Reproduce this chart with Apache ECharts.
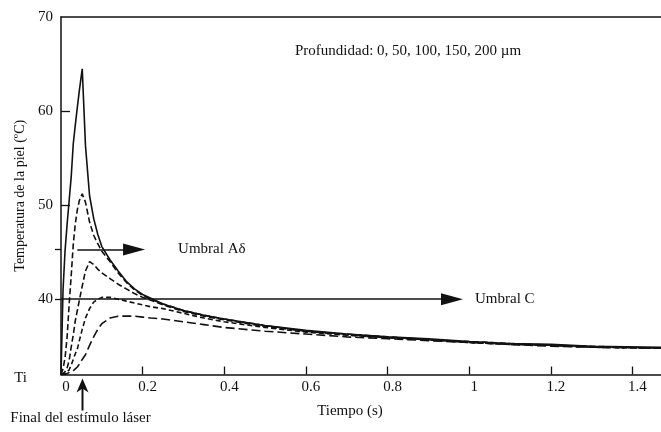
<!DOCTYPE html>
<html><head><meta charset="utf-8">
<script src="https://cdn.jsdelivr.net/npm/echarts@6/dist/echarts.min.js"></script>
<style>html,body{margin:0;padding:0;background:#fff}#c{width:661px;height:432px}</style>
</head><body><div id="c"></div>
<script>
// ---- data ----
const timeS    = [0, 0.005, 0.01, 0.015, 0.02, 0.025, 0.03, 0.035, 0.04, 0.045, 0.052, 0.06, 0.07, 0.08, 0.09, 0.1, 0.12, 0.14, 0.16, 0.18, 0.2, 0.22, 0.25, 0.3, 0.35, 0.4, 0.5, 0.6, 0.7, 0.8, 0.9, 1.0, 1.1, 1.2, 1.3, 1.47];
const depth0   = [32, 41, 45.2, 48, 50.5, 53, 56.5, 58.5, 60.4, 62.2, 64.5, 56.3, 51.0, 48.6, 46.9, 45.6, 44.2, 43.0, 41.9, 41.1, 40.5, 40.1, 39.5, 38.8, 38.3, 37.9, 37.2, 36.7, 36.3, 36.0, 35.8, 35.5, 35.3, 35.2, 35.0, 34.9];
const depth50  = [32, 32.6, 33.8, 36, 39.5, 42.5, 45.8, 48, 49.5, 50.5, 51.2, 50.3, 48.2, 46.8, 45.9, 45.1, 44.0, 42.8, 41.8, 41.0, 40.4, 40.0, 39.5, 38.8, 38.3, 37.9, 37.2, 36.6, 36.3, 36.0, 35.7, 35.5, 35.3, 35.1, 35.0, 34.8];
const depth100 = [32, 32.1, 32.3, 32.7, 33.5, 34.9, 36.2, 37.7, 38.8, 39.9, 41.4, 43.0, 44.0, 43.7, 43.2, 42.8, 42.2, 41.6, 41.1, 40.6, 40.2, 39.9, 39.4, 38.7, 38.2, 37.8, 37.1, 36.6, 36.2, 35.9, 35.7, 35.4, 35.2, 35.1, 34.9, 34.8];
const depth150 = [32, 32, 32.1, 32.3, 32.5, 33.0, 33.6, 34.2, 34.7, 35.6, 36.8, 38.0, 39.0, 39.7, 40.0, 40.2, 40.2, 40.0, 39.8, 39.6, 39.4, 39.2, 39.0, 38.5, 38.0, 37.6, 37.0, 36.5, 36.2, 35.9, 35.7, 35.4, 35.2, 35.1, 34.9, 34.8];
const depth200 = [32, 32, 32, 32.1, 32.2, 32.3, 32.4, 32.6, 32.8, 33.1, 33.6, 34.1, 35.1, 36.0, 36.8, 37.4, 38.0, 38.2, 38.2, 38.2, 38.1, 38.0, 37.9, 37.6, 37.3, 37.0, 36.6, 36.3, 36.0, 35.8, 35.6, 35.4, 35.2, 35.0, 34.9, 34.8];
const depthNames = ['0 µm', '50 µm', '100 µm', '150 µm', '200 µm'];
const tempTi = 32;
const yTickLabels = [32, 40, 50, 60, 70];
const xTickLabels = [0, 0.2, 0.4, 0.6, 0.8, 1, 1.2, 1.4];
const thresholdAdelta = 45.3;
const thresholdC = 40;
const aDeltaSpan = [0.04, 0.179];
const cSpan = [0, 0.958];
const stimulusEnd = 0.052;

// ---- chart ----
const FONT = '"Liberation Serif", "DejaVu Serif", serif';
const INK = '#111';
const chart = echarts.init(document.getElementById('c'), null, {renderer: 'canvas'});
const allDepths = [depth0, depth50, depth100, depth150, depth200];
const dashes = ['solid', [6, 3], [6, 3], [5, 3], [9, 4]];
const arrowPath = 'path://M6,0L12,22L0,22Z';

const series = allDepths.map((arr, k) => ({
  name: depthNames[k],
  type: 'line',
  xAxisIndex: 0, yAxisIndex: 0,
  data: timeS.map((t, i) => [t, arr[i]]),
  showSymbol: false,
  symbol: 'none',
  z: 5 - k,
  lineStyle: {color: INK, width: 1.6, type: dashes[k]},
  silent: true
}));
series[0].markLine = {
  silent: true,
  symbol: ['none', arrowPath],
  symbolSize: 22,
  symbolKeepAspect: true,
  lineStyle: {color: INK, width: 1.5, type: 'solid'},
  label: {show: true, position: 'end', color: INK, fontFamily: FONT, fontSize: 15},
  data: [
    [{coord: [aDeltaSpan[0], thresholdAdelta], symbolKeepAspect: true, label: {formatter: 'Umbral Aδ', distance: 44}},
     {coord: [aDeltaSpan[1], thresholdAdelta], symbolKeepAspect: true}],
    [{coord: [cSpan[0], thresholdC], symbolKeepAspect: true, label: {formatter: 'Umbral C', distance: 23}},
     {coord: [cSpan[1], thresholdC], symbolKeepAspect: true}]
  ]
};

chart.setOption({
  animation: false,
  backgroundColor: '#fff',
  textStyle: {fontFamily: FONT, color: INK},
  grid: {left: 61, right: 0, top: 17, bottom: 57.5, containLabel: false, outerBoundsMode: 'none'},
  xAxis: [{
    type: 'value', min: 0, max: 1.47, position: 'bottom',
    name: 'Tiempo (s)', nameLocation: 'middle', nameGap: 29, nameMoveOverlap: false,
    nameTextStyle: {fontFamily: FONT, fontSize: 15, color: INK, padding: [0, 22, 0, 0]},
    axisLine: {show: true, lineStyle: {color: INK, width: 1.5}},
    axisTick: {show: true, inside: true, length: 8, customValues: xTickLabels.slice(1), lineStyle: {color: INK, width: 1.3}},
    axisLabel: {show: true, customValues: xTickLabels, margin: 5, fontFamily: FONT, fontSize: 15, color: INK, padding: [0, 0, 0, 10],
      formatter: v => String(v)},
    splitLine: {show: false}
  }, {
    type: 'value', min: 0, max: 1.47, position: 'top',
    axisLine: {show: true, onZero: false, lineStyle: {color: INK, width: 1.5}},
    axisTick: {show: false}, axisLabel: {show: false}, splitLine: {show: false}
  }],
  yAxis: [{
    type: 'value', min: tempTi, max: 70, position: 'left',
    name: 'Temperatura de la piel (ºC)', nameLocation: 'middle', nameGap: 34, nameRotate: 90, nameMoveOverlap: false,
    nameTextStyle: {fontFamily: FONT, fontSize: 14, color: INK},
    axisLine: {show: true, onZero: false, lineStyle: {color: INK, width: 1.5}},
    axisTick: {show: true, inside: true, length: 9, customValues: [50, 60], lineStyle: {color: INK, width: 1.3}},
    axisLabel: {show: true, customValues: yTickLabels, margin: 8, fontFamily: FONT, fontSize: 15, color: INK,
      formatter: v => v === tempTi ? '{ti|Ti}' : String(v),
      rich: {ti: {fontFamily: FONT, fontSize: 15, color: INK, padding: [8, 26, 0, 0]}}},
    splitLine: {show: false}
  }, {
    type: 'value', min: tempTi, max: 70, position: 'left',
    axisLine: {show: false},
    axisTick: {show: true, inside: false, length: 6, customValues: [thresholdC, thresholdAdelta], lineStyle: {color: INK, width: 1.3}},
    axisLabel: {show: false}, splitLine: {show: false}
  }],
  series: series
});

// annotations: depth note and stimulus-end arrow (placed via the chart's own scales)
const base = chart.convertToPixel({xAxisIndex: 0, yAxisIndex: 0}, [stimulusEnd, tempTi]);
const ax = Math.round(base[0]) + 0.5, ay = base[1];
chart.setOption({
  graphic: [
    {type: 'text', left: 295, top: 44, style: {text: 'Profundidad: 0, 50, 100, 150, 200 µm', font: '15px ' + FONT, fill: INK}},
    {type: 'line', shape: {x1: ax, y1: ay + 12, x2: ax, y2: ay + 36}, style: {stroke: INK, lineWidth: 2}},
    {type: 'polygon', shape: {points: [[ax, ay + 4], [ax + 6, ay + 18], [ax, ay + 14], [ax - 6, ay + 18]]}, style: {fill: INK}},
    {type: 'text', x: ax - 2, y: ay + 44, style: {text: 'Final del estímulo láser', font: '15px ' + FONT, fill: INK, textAlign: 'center', textVerticalAlign: 'middle'}}
  ]
});
</script>
</body></html>
